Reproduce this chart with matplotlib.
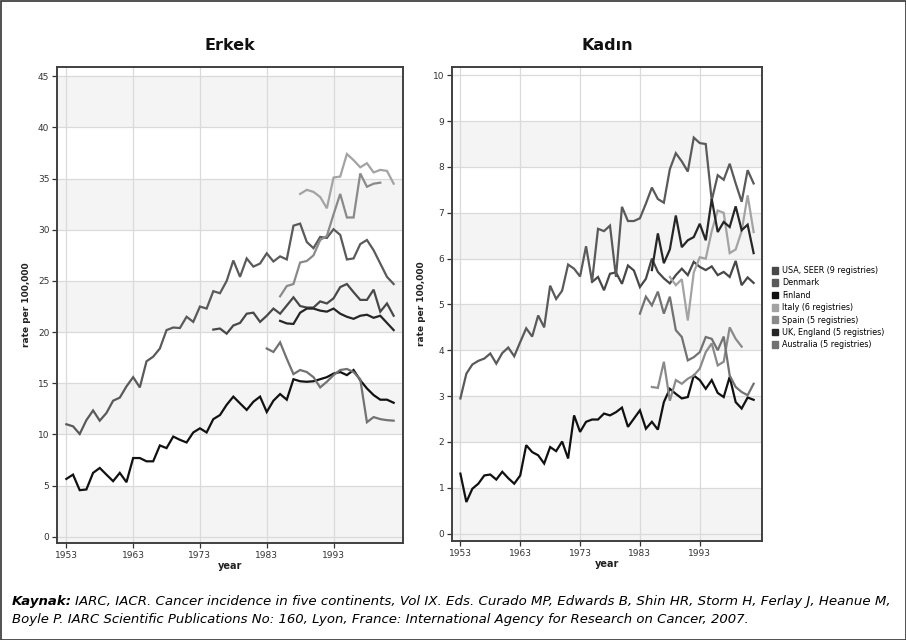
import matplotlib
matplotlib.use('Agg')
import matplotlib.pyplot as plt
from matplotlib.patches import Patch, Rectangle

# series names and colours (grayscale, as in the reference)
names = ['USA, SEER (9 registries)', 'Denmark', 'Finland', 'Italy (6 registries)',
         'Spain (5 registries)', 'UK, England (5 registries)', 'Australia (5 registries)']
colors = ['#484848', '#5a5a5a', '#111111', '#a3a3a3', '#8a8a8a', '#262626', '#727272']

# ---- Erkek (men) ----
den_m_years = list(range(1953, 2003))
den_m = [11.0, 10.8, 10.05, 11.4, 12.35, 11.35, 12.1, 13.3, 13.6, 14.7,
         15.6, 14.6, 17.15, 17.6, 18.4, 20.2, 20.45, 20.4, 21.5, 21.0,
         22.5, 22.3, 24.0, 23.8, 25.0, 27.0, 25.4, 27.2, 26.4, 26.7,
         27.7, 26.9, 27.4, 27.1, 30.4, 30.6, 28.8, 28.2, 29.3, 29.2,
         30.05, 29.5, 27.1, 27.2, 28.6, 29.0, 28.0, 26.7, 25.4, 24.7]
fin_m_years = list(range(1953, 2003))
fin_m = [5.66, 6.08, 4.56, 4.63, 6.25, 6.73, 6.08, 5.44, 6.25, 5.34,
         7.7, 7.7, 7.38, 7.38, 8.93, 8.67, 9.8, 9.48, 9.22, 10.2,
         10.6, 10.2, 11.5, 11.9, 12.9, 13.7, 13.04, 12.4, 13.2, 13.7,
         12.2, 13.3, 13.95, 13.4, 15.4, 15.2, 15.15, 15.2, 15.4, 15.6,
         15.95, 16.1, 15.8, 16.3, 15.3, 14.5, 13.85, 13.4, 13.4, 13.1]
usa_m_years = list(range(1975, 2003))
usa_m = [20.25, 20.35, 19.85, 20.65, 20.9, 21.8, 21.9, 21.0, 21.6, 22.3,
         21.8, 22.6, 23.4, 22.55, 22.4, 22.4, 23.0, 22.8, 23.3, 24.4,
         24.7, 23.9, 23.15, 23.15, 24.15, 22.0, 22.8, 21.6]
uk_m_years = list(range(1985, 2003))
uk_m = [21.1, 20.85, 20.8, 21.9, 22.3, 22.3, 22.1, 22.0, 22.3, 21.8,
        21.5, 21.3, 21.6, 21.7, 21.4, 21.6, 20.9, 20.2]
aus_m_years = list(range(1983, 2003))
aus_m = [18.4, 18.06, 19.0, 17.4, 15.9, 16.3, 16.1, 15.6, 14.6, 15.15,
         15.8, 16.3, 16.4, 16.1, 15.4, 11.2, 11.7, 11.5, 11.4, 11.35]
spa_m_years = list(range(1985, 2001))
spa_m = [23.5, 24.5, 24.7, 26.8, 26.95, 27.5, 29.0, 29.4, 31.5, 33.5,
         31.2, 31.2, 35.5, 34.2, 34.5, 34.6]
ita_m_years = list(range(1988, 2003))
ita_m = [33.5, 33.9, 33.7, 33.2, 32.1, 35.1, 35.2, 37.4, 36.8, 36.1,
         36.5, 35.6, 35.85, 35.75, 34.5]

# ---- Kadın (women) ----
den_f_years = list(range(1953, 2003))
den_f = [2.95, 3.49, 3.69, 3.77, 3.82, 3.93, 3.71, 3.94, 4.06, 3.87,
         4.18, 4.48, 4.3, 4.76, 4.5, 5.41, 5.12, 5.3, 5.87, 5.78,
         5.61, 6.27, 5.5, 6.65, 6.6, 6.72, 5.6, 7.13, 6.82, 6.82,
         6.88, 7.2, 7.55, 7.3, 7.22, 7.95, 8.3, 8.12, 7.9, 8.64,
         8.52, 8.5, 7.27, 7.82, 7.72, 8.07, 7.64, 7.24, 7.93, 7.64]
fin_f_years = list(range(1953, 2003))
fin_f = [1.31, 0.69, 0.98, 1.09, 1.27, 1.29, 1.18, 1.35, 1.21, 1.09,
         1.27, 1.93, 1.78, 1.71, 1.53, 1.89, 1.8, 2.01, 1.64, 2.58,
         2.22, 2.44, 2.49, 2.49, 2.62, 2.58, 2.65, 2.75, 2.33, 2.51,
         2.69, 2.29, 2.44, 2.27, 2.87, 3.16, 3.05, 2.95, 2.98, 3.45,
         3.35, 3.16, 3.35, 3.07, 2.98, 3.42, 2.87, 2.73, 2.97, 2.92]
usa_f_years = list(range(1975, 2003))
usa_f = [5.49, 5.6, 5.31, 5.67, 5.7, 5.45, 5.85, 5.74, 5.38, 5.56,
         6.0, 5.71, 5.57, 5.46, 5.64, 5.78, 5.64, 5.93, 5.82, 5.75,
         5.83, 5.64, 5.71, 5.6, 5.95, 5.42, 5.59, 5.47]
uk_f_years = list(range(1985, 2003))
uk_f = [5.75, 6.55, 5.9, 6.2, 6.94, 6.25, 6.4, 6.47, 6.76, 6.4,
        7.3, 6.58, 6.8, 6.69, 7.14, 6.62, 6.74, 6.12]
aus_f_years = list(range(1983, 2003))
aus_f = [4.8, 5.17, 4.98, 5.28, 4.8, 5.17, 4.44, 4.29, 3.78, 3.85,
         3.96, 4.29, 4.25, 4.0, 4.3, 3.45, 3.2, 3.09, 3.02, 3.27]
spa_f_years = list(range(1985, 2001))
spa_f = [3.2, 3.18, 3.75, 2.9, 3.35, 3.27, 3.38, 3.45, 3.6, 3.96,
         4.15, 3.67, 3.75, 4.5, 4.25, 4.08]
ita_f_years = list(range(1988, 2003))
ita_f = [5.6, 5.42, 5.55, 4.65, 5.7, 6.03, 6.0, 6.6, 7.05, 7.0,
         6.12, 6.2, 6.6, 7.38, 6.58]

xticks = [1953, 1963, 1973, 1983, 1993]

W, H = 906, 640
fig = plt.figure(figsize=(W / 100, H / 100), dpi=100)
fig.patch.set_facecolor('white')

ax1 = fig.add_axes([57 / W, 1 - 543 / H, 346 / W, 476 / H])
ax2 = fig.add_axes([452 / W, 1 - 541 / H, 310 / W, 474 / H])


def setup(ax, ylim, step, top, title):
    ax.set_xlim(1951.6, 2003.4)
    ax.set_ylim(*ylim)
    v = 0
    while v < top:
        lo = ylim[0] if v == 0 else v
        ax.axhspan(lo, v + step, color='#f4f4f4', lw=0, zorder=0)
        v += 2 * step
    ax.set_xticks(xticks)
    ax.set_yticks([step * i for i in range(int(round(top / step)) + 1)])
    ax.grid(True, color='#dadada', lw=0.9, zorder=1)
    for s in ax.spines.values():
        s.set_color('#404040')
        s.set_linewidth(1.4)
    ax.tick_params(labelsize=6.5, colors='#333333', length=3.5, width=0.9, pad=2)
    ax.set_xlabel('year', fontsize=7, fontweight='bold', color='#222222', labelpad=1)
    ax.set_ylabel('rate per 100,000', fontsize=6.5, fontweight='bold', color='#222222', labelpad=5)
    ax.set_title(title, fontsize=11.5, fontweight='bold', pad=12, color='#111111')


setup(ax1, (-0.6, 45.9), 5, 45, 'Erkek')
setup(ax2, (-0.16, 10.18), 1, 10, 'Kadın')

men = [(usa_m_years, usa_m), (den_m_years, den_m), (fin_m_years, fin_m),
       (ita_m_years, ita_m), (spa_m_years, spa_m), (uk_m_years, uk_m),
       (aus_m_years, aus_m)]
women = [(usa_f_years, usa_f), (den_f_years, den_f), (fin_f_years, fin_f),
         (ita_f_years, ita_f), (spa_f_years, spa_f), (uk_f_years, uk_f),
         (aus_f_years, aus_f)]

for ax, data in [(ax1, men), (ax2, women)]:
    for (xs, ys), c in zip(data, colors):
        ax.plot(xs, ys, color=c, lw=1.6, zorder=3, solid_joinstyle='miter')

handles = [Patch(facecolor=c, edgecolor=c) for c in colors]
fig.legend(handles, names, loc='upper left', bbox_to_anchor=(772 / W, 1 - 266 / H),
           frameon=False, fontsize=5.8, handlelength=0.8, handleheight=0.9,
           handletextpad=0.5, labelspacing=0.42, borderaxespad=0, borderpad=0)

# outer frame
fig.add_artist(Rectangle((0.5 / W, 0.5 / H), (W - 1) / W, (H - 1) / H,
                         transform=fig.transFigure, fill=False, ec='#333333', lw=1.2))

# caption
cap_font = 'DejaVu Sans'
t1 = fig.text(12 / W, 1 - 601 / H, 'Kaynak:', fontsize=9.5, fontweight='bold',
              style='italic', family=cap_font, va='center', ha='left')
fig.canvas.draw()
bb = t1.get_window_extent()
x2 = (bb.x1 + 3) / W
fig.text(x2, 1 - 601 / H,
         'IARC, IACR. Cancer incidence in five continents, Vol IX. Eds. Curado MP, Edwards B, '
         'Shin HR, Storm H, Ferlay J, Heanue M,',
         fontsize=9.6, style='italic', family=cap_font, va='center', ha='left')
fig.text(12 / W, 1 - 619 / H,
         'Boyle P. IARC Scientific Publications No: 160, Lyon, France: International Agency '
         'for Research on Cancer, 2007.',
         fontsize=9.5, style='italic', family=cap_font, va='center', ha='left')

fig.savefig('out.png', dpi=100)
